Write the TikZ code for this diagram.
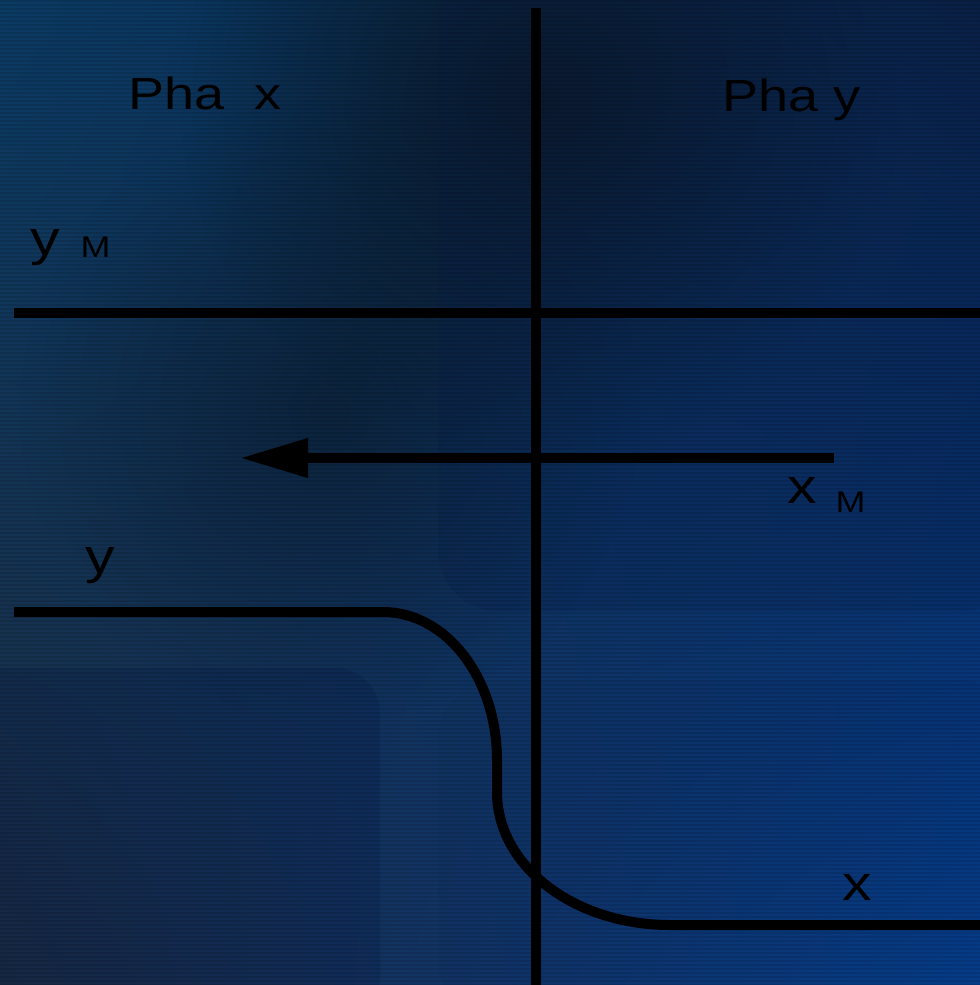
\documentclass[tikz,border=0pt]{standalone}
\usepackage{fontspec}
\setmainfont{Liberation Sans}
\usepackage{xcolor}
\usepackage{graphicx}
\definecolor{bgtl}{HTML}{0B3A63}
\definecolor{bgtr}{HTML}{0A2246}
\definecolor{bgbl}{HTML}{1C2C42}
\definecolor{bgbr}{HTML}{063E8E}
\definecolor{shadow}{HTML}{0A141E}
\definecolor{tileblue}{HTML}{061A45}
\usepackage{tikz}
\usetikzlibrary{arrows.meta,fadings,shadings}
\newcommand{\wide}[1]{\scalebox{1.2}[1]{#1}}
\tikzfading[name=softspot,inner color=transparent!0,outer color=transparent!100]
\tikzset{
  >={Triangle[length=0.68cm,width=0.37cm]},
  wire/.style={draw=black,line width=0.1cm},
  lbl/.style={anchor=base west,inner sep=0pt,text=black,font=\fontsize{12.8}{15}\selectfont},
  vlbl/.style={lbl,font=\fontsize{14}{16}\selectfont},
  sublbl/.style={lbl,font=\fontsize{8.5}{10}\selectfont},
  tile/.style={fill=tileblue,rounded corners=0.6cm},
  spot/.style={fill=shadow,path fading=softspot},
}

\begin{document}
\begin{tikzpicture}[x=0.01cm,y=-0.01cm]
  \useasboundingbox (0,0) rectangle (980,985);
  % background
  \shade[upper left=bgtl,upper right=bgtr,lower left=bgbl,lower right=bgbr] (0,0) rectangle (980,985);
  \fill[spot,fill opacity=0.8] (180,-250) rectangle (900,450);
  \fill[spot,fill opacity=0.5] (20,100) rectangle (640,720);
  \fill[tile,fill opacity=0.2] (438,-40) rectangle (1020,611);
  \fill[tile,fill opacity=0.25,rounded corners=0.45cm] (-40,668) rectangle (380,1020);
  \fill[tile,fill opacity=0.08] (438,680) rectangle (1020,1020);
  \foreach \s in {0,4,...,984}
    \fill[black,fill opacity=0.1] (0,\s) rectangle (980,\s+2);
  % axes and boundary
  \coordinate (vtop) at (536,8);
  \coordinate (vbot) at (536,985);
  \coordinate (hl) at (14,313);
  \coordinate (hr) at (980,313);
  \draw[wire] (vtop) -- (vbot);
  \draw[wire] (hl) -- (hr);
  % x_M transfer
  \coordinate (xm0) at (834,458);
  \coordinate (xm1) at (240,458);
  \draw[wire,->] (xm0) -- (xm1);
  % operating line
  \coordinate (op0) at (14,612);
  \coordinate (op1) at (383,612);
  \coordinate (op2) at (497,760);
  \coordinate (op3) at (497,792);
  \coordinate (op4) at (670,925);
  \coordinate (op5) at (980,925);
  \draw[wire] (op0) -- (op1) .. controls (446,612) and (497,678) .. (op2)
    -- (op3) .. controls (497,866) and (574,925) .. (op4) -- (op5);
  % labels
  \node[lbl] (phx) at (128,110) {\wide{Pha\ \ x}};
  \node[lbl] (phy) at (722,112) {\wide{Pha y}};
  \node[vlbl] (ym) at (30,255) {\wide{y}};
  \node[sublbl] (ymsub) at (80,257) {\wide{M}};
  \node[vlbl] (xm) at (787,503) {\wide{x}};
  \node[sublbl] (xmsub) at (835,512) {\wide{M}};
  \node[vlbl] (ylab) at (85,573) {\wide{y}};
  \node[vlbl] (xlab) at (842,900) {\wide{x}};
\end{tikzpicture}
\end{document}
